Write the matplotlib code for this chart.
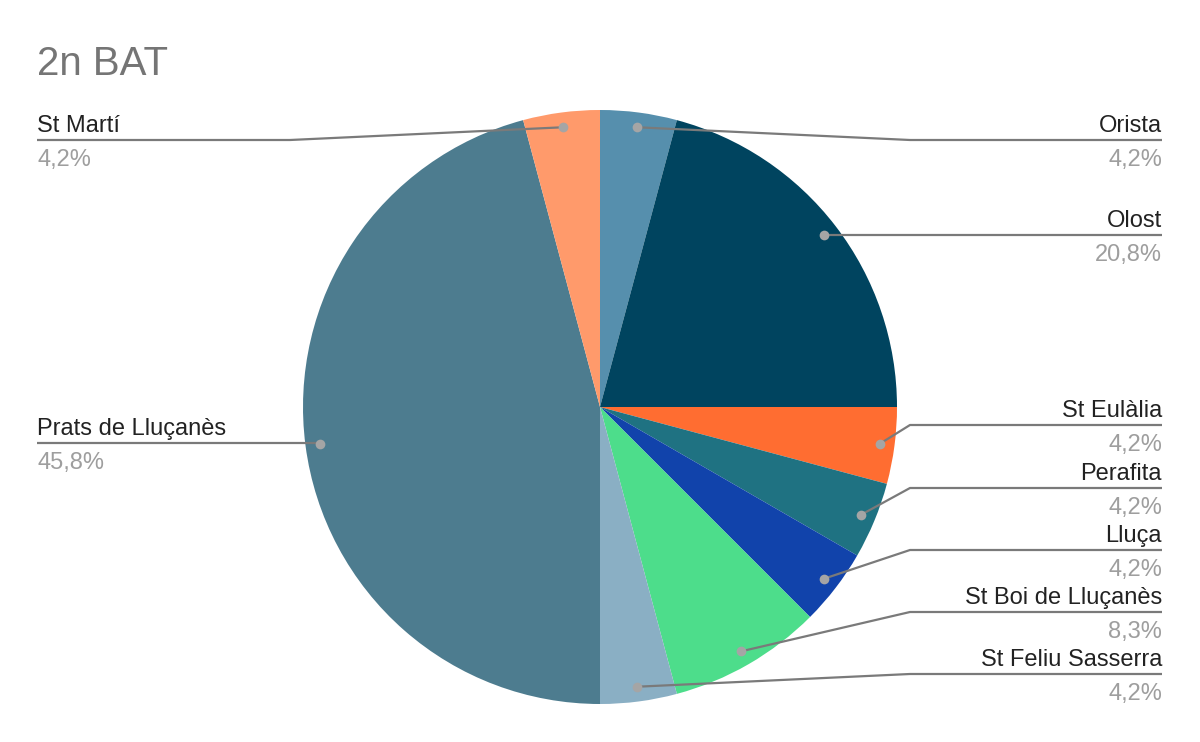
import matplotlib
matplotlib.use("Agg")
import matplotlib.pyplot as plt
import numpy as np

# data: counts (out of 24), clockwise from 12 o'clock
towns = ["Orista", "Olost", "St Eulàlia", "Perafita", "Lluça",
         "St Boi de Lluçanès", "St Feliu Sasserra", "Prats de Lluçanès", "St Martí"]
counts = [1, 5, 1, 1, 1, 2, 1, 11, 1]
colors = ["#568FAD", "#00445F", "#FF6D31", "#1F7282", "#1143AB",
          "#4DDD8B", "#8AAFC4", "#4D7C8F", "#FF9A6B"]

# layout (pixels from top): leader line y, side
line_y = [140, 235, 425, 488, 550, 612, 674, 443, 140]
side = ["R", "R", "R", "R", "R", "R", "R", "L", "L"]

W, H = 1200, 742
fig = plt.figure(figsize=(W / 100, H / 100), dpi=100)
ax = fig.add_axes([0, 0, 1, 1])

cx, cy, R = 600, H - 407, 297
wedges, _ = ax.pie(counts, colors=colors, startangle=90, counterclock=False,
                   center=(cx, cy), radius=R, wedgeprops=dict(linewidth=0),
                   frame=True)
ax.set_xlim(0, W)
ax.set_ylim(0, H)
ax.set_aspect("equal")
ax.axis("off")

total = sum(counts)
font = "Liberation Sans"
line_col = "#7a7a7a"
for w, name, n, ly, s in zip(wedges, towns, counts, line_y, side):
    mid = np.deg2rad((w.theta1 + w.theta2) / 2)
    dx = cx + 0.95 * R * np.cos(mid)
    dy = cy + 0.95 * R * np.sin(mid)
    y = H - ly
    end, elbow = (1162, 910) if s == "R" else (37, 290)
    if abs(y - dy) > 2:
        xs, ys = [dx, elbow, end], [dy, y, y]
    else:
        xs, ys = [dx, end], [y, y]
    ha = "right" if s == "R" else "left"
    ax.plot(xs, ys, color=line_col, lw=1.6, solid_capstyle="butt", zorder=3)
    ax.plot([dx], [dy], "o", color="#a5a5a5", markersize=7, mec="none", zorder=4)
    pct = f"{100 * n / total:.1f}%".replace(".", ",")
    ax.text(end, y + 8, name, ha=ha, va="baseline", fontsize=17,
            family=font, color="#222222")
    ax.text(end, y - 26, pct, ha=ha, va="baseline", fontsize=17,
            family=font, color="#9e9e9e")

ax.text(37, H - 75, "2n BAT", ha="left", va="baseline", fontsize=29,
        family=font, color="#757575")

fig.savefig("out.png", dpi=100)
